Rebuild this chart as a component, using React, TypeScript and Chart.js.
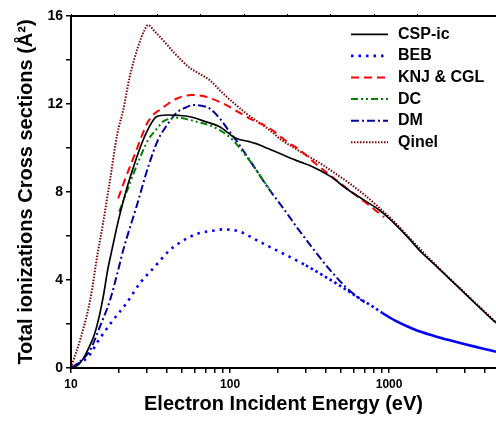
import React, { useEffect, useRef } from 'react';
import { Chart, registerables } from 'chart.js';

Chart.register(...registerables);

// ---- Data (energy in eV, cross section in Å²) ----
const seriesNames = ['CSP-ic', 'BEB', 'KNJ & CGL', 'DC', 'DM', 'Qinel'];

const cspE = [10, 11, 12, 13, 14, 15, 16, 17, 18, 20, 22.3, 25, 28, 31, 34.4, 40, 48, 56, 70, 86, 109, 130, 146, 170, 204, 273, 330, 430, 535, 700, 866, 1000, 1300, 1600, 2000, 2500, 3000, 3700, 4700];
const cspV = [0, 0.12, 0.45, 0.95, 1.5, 2.3, 3.3, 4.45, 5.3, 6.8, 8.1, 9.25, 10.25, 10.95, 11.42, 11.5, 11.48, 11.42, 11.2, 10.97, 10.44, 10.3, 10.2, 10.0, 9.76, 9.38, 9.15, 8.7, 8.17, 7.62, 7.18, 6.8, 5.97, 5.25, 4.6, 3.93, 3.38, 2.75, 2.05];

const bebE = [10, 11, 12.8, 15.2, 18.4, 22.3, 27.1, 33.6, 41.8, 49.4, 61.4, 78, 90, 115, 146, 185, 236, 300, 382, 486, 618, 786, 907, 1100, 1470, 1900, 2378, 3000, 3800, 4700];
const bebV = [0, 0.18, 0.51, 1.35, 2.18, 2.94, 3.85, 4.6, 5.36, 5.74, 6.09, 6.24, 6.3, 6.2, 5.82, 5.44, 5.06, 4.66, 4.22, 3.76, 3.27, 2.8, 2.5, 2.14, 1.73, 1.47, 1.27, 1.08, 0.9, 0.74];

const knjE = [19.8, 21.8, 25.8, 27.7, 30, 32.8, 36.1, 46, 57.2, 67.5, 90, 132, 177, 236, 266, 350, 463, 575, 714, 866, 930];
const knjV = [7.71, 8.55, 9.91, 10.5, 11.1, 11.5, 11.73, 12.24, 12.41, 12.36, 12.03, 11.35, 10.9, 10.21, 9.98, 9.25, 8.55, 8.02, 7.51, 7.03, 6.85];

const dcE = [20.1, 22.9, 26.4, 30.5, 34.4, 37.9, 43, 47.1, 54.3, 61.4, 78, 92.4, 104, 132, 161, 181];
const dcV = [7.1, 8.2, 9.35, 10.36, 10.85, 11.2, 11.35, 11.38, 11.3, 11.2, 10.97, 10.67, 10.36, 9.45, 8.55, 8.02];

const dmE = [10, 11, 13.2, 15.2, 17.6, 19.8, 21.3, 25.8, 30.6, 35.2, 39.8, 46, 51.9, 58.5, 66, 74.3, 85.9, 99.3, 109, 146, 177, 214, 266, 330, 420, 530, 618, 700];
const dmV = [0, 0.2, 0.82, 1.88, 3.09, 4.45, 5.36, 7.33, 9.15, 10.36, 11.0, 11.6, 11.82, 11.95, 11.92, 11.8, 11.35, 10.74, 10.36, 9.0, 8.1, 7.3, 6.35, 5.45, 4.5, 3.7, 3.28, 2.98];

const qE = [10, 10.3, 11.4, 13.2, 14.7, 15.9, 17.6, 19.5, 21.3, 23.4, 26.4, 29, 30.5, 33.6, 37.9, 44.9, 55.7, 65, 74.3, 90, 126, 177, 204, 266, 382, 680, 1049, 1500, 2000, 3000, 4700];
const qV = [0, 0.3, 1.27, 3.09, 5.2, 6.58, 8.55, 10.6, 11.73, 13.24, 14.6, 15.36, 15.59, 15.3, 14.9, 14.3, 13.65, 13.35, 13.09, 12.49, 11.58, 10.82, 10.44, 9.91, 9.23, 7.94, 6.73, 5.55, 4.63, 3.41, 2.08];

const xTickValues = [10, 20, 30, 40, 50, 60, 70, 80, 90, 100, 200, 300, 400, 500, 600, 700, 800, 900, 1000, 2000, 3000, 4000];
const xTickLabels = ['10', '100', '1000'];
const yTickLabels = ['0', '4', '8', '12', '16'];

const xTitle = 'Electron Incident Energy (eV)';
const yTitle = 'Total ionizations Cross sections (Å²)';

const FONT = "'Liberation Sans', Arial, Helvetica, sans-serif";

const pts = (e: number[], v: number[]) => e.map((x, i) => ({ x, y: v[i] }));

const legendPlugin = {
  id: 'customLegend',
  afterDraw(chart: any) {
    const ctx = chart.ctx as CanvasRenderingContext2D;
    ctx.save();
    chart.data.datasets.forEach((ds: any, i: number) => {
      const y = 34.3 + i * 21.6;
      ctx.beginPath();
      ctx.setLineDash(ds.borderDash || []);
      ctx.strokeStyle = ds.borderColor;
      ctx.lineWidth = ds.borderWidth;
      ctx.moveTo(351, y);
      ctx.lineTo(388, y);
      ctx.stroke();
      ctx.setLineDash([]);
      ctx.fillStyle = '#000';
      ctx.font = `bold 16px ${FONT}`;
      ctx.textBaseline = 'middle';
      ctx.textAlign = 'left';
      ctx.fillText(ds.label, 398, y);
    });
    ctx.restore();
  },
};

export default function App() {
  const ref = useRef<HTMLCanvasElement | null>(null);

  useEffect(() => {
    if (!ref.current) return;
    Chart.defaults.font.family = FONT;
    const common = { pointRadius: 0, fill: false, cubicInterpolationMode: 'monotone' as const };
    const chart = new Chart(ref.current, {
      type: 'line',
      data: {
        datasets: [
          { ...common, label: seriesNames[0], data: pts(cspE, cspV), borderColor: '#000000', borderWidth: 1.7, borderDash: [] },
          {
            ...common, label: seriesNames[1], data: pts(bebE, bebV), borderColor: '#0000FF', borderWidth: 2.6, borderDash: [2.5, 5],
            segment: {
              borderDash: (c: any) => (c.p0.parsed.x >= 800 ? [] : c.p0.parsed.x >= 250 ? [2.5, 3] : undefined),
            },
          },
          { ...common, label: seriesNames[2], data: pts(knjE, knjV), borderColor: '#FF0000', borderWidth: 2, borderDash: [8, 5] },
          { ...common, label: seriesNames[3], data: pts(dcE, dcV), borderColor: '#008000', borderWidth: 2, borderDash: [7, 3, 2, 3, 2, 3] },
          { ...common, label: seriesNames[4], data: pts(dmE, dmV), borderColor: '#0000A0', borderWidth: 2, borderDash: [8, 3, 2, 3] },
          { ...common, label: seriesNames[5], data: pts(qE, qV), borderColor: '#800000', borderWidth: 2, borderDash: [1.5, 1.5] },
        ],
      },
      options: {
        animation: false,
        responsive: false,
        layout: { padding: 0 },
        plugins: { legend: { display: false }, tooltip: { enabled: false } },
        scales: {
          x: {
            type: 'logarithmic',
            position: 'bottom',
            min: 10,
            max: 4700,
            afterBuildTicks: (s: any) => { s.ticks = xTickValues.map((v) => ({ value: v })); },
            afterFit: (s: any) => { s.height = 55; },
            ticks: {
              autoSkip: false,
              maxRotation: 0,
              padding: 4,
              color: '#000',
              font: { size: 12, weight: 'bold' },
              callback: (v: any) => (xTickLabels.includes(String(v)) ? String(v) : ''),
            },
            grid: { drawOnChartArea: false, drawTicks: true, tickLength: 5, tickColor: '#000', lineWidth: 1.5 },
            border: { display: true, color: '#000', width: 2 },
            title: { display: true, text: xTitle, color: '#000', font: { size: 20, weight: 'bold' }, padding: { top: 0, bottom: 7 } },
          },
          x2: {
            type: 'linear',
            position: 'top',
            min: 0,
            max: 9.81,
            afterFit: (s: any) => { s.height = 16; },
            ticks: { display: false, stepSize: 1 },
            grid: { drawOnChartArea: false, drawTicks: true, tickLength: 2, tickColor: '#000', lineWidth: 1 },
            border: { display: true, color: '#000', width: 2 },
          },
          y: {
            type: 'linear',
            position: 'left',
            min: 0,
            max: 16,
            afterFit: (s: any) => { s.width = 71; },
            ticks: {
              stepSize: 2,
              padding: 3,
              color: '#000',
              font: { size: 14, weight: 'bold' },
              callback: (v: any) => (yTickLabels.includes(String(v)) ? String(v) : ''),
            },
            grid: { drawOnChartArea: false, drawTicks: true, tickLength: 5, tickColor: '#000', lineWidth: 1.5 },
            border: { display: true, color: '#000', width: 2 },
            title: { display: true, text: yTitle, color: '#000', font: { size: 20, weight: 'bold' }, padding: { top: 14, bottom: 0 } },
          },
        },
      },
      plugins: [legendPlugin],
    });
    return () => chart.destroy();
  }, []);

  return (
    <div style={{ position: 'fixed', left: 0, top: 0, width: 496, height: 423, background: '#fff' }}>
      <canvas ref={ref} width={496} height={423} style={{ display: 'block' }} />
    </div>
  );
}
